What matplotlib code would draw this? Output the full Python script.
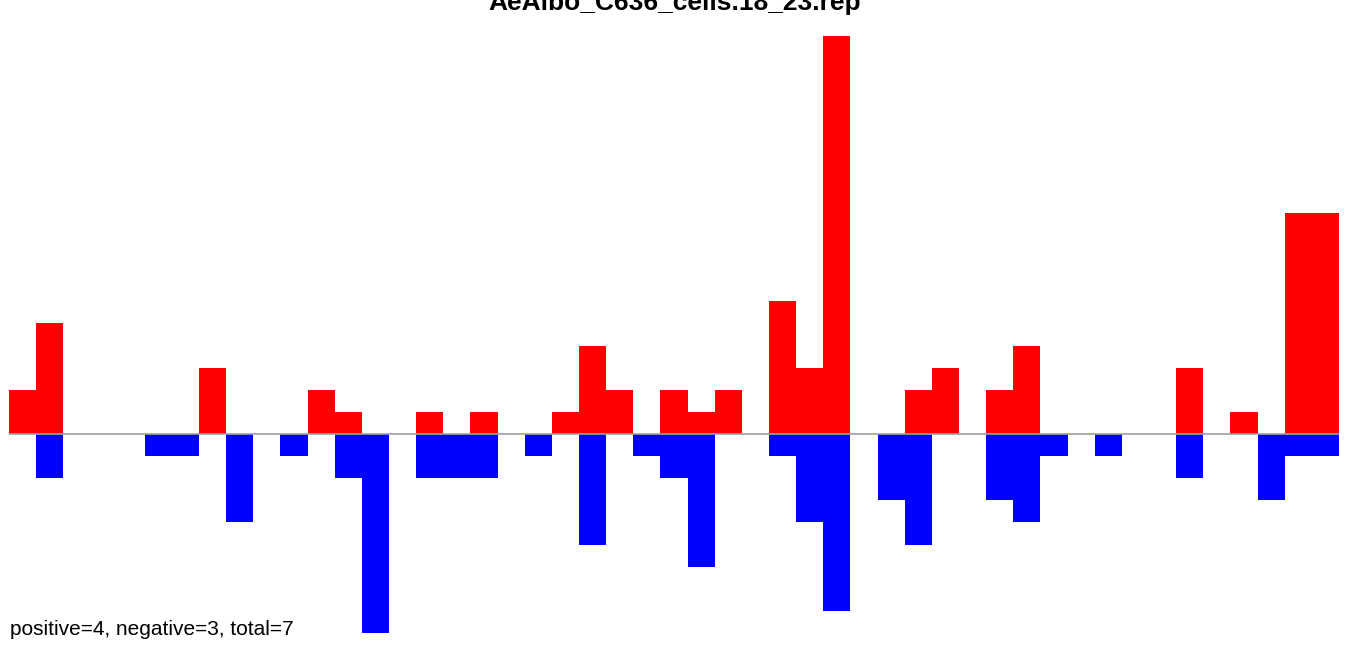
import numpy as np
import matplotlib.pyplot as plt

plt.rcParams['font.family'] = ['Liberation Sans', 'DejaVu Sans']

title = "AeAlbo_C636_cells.18_23.rep"
note = "positive=4, negative=3, total=7"

# counts per bin (49 bins)
pos = [2, 5, 0, 0, 0, 0, 0, 3, 0, 0,
       0, 2, 1, 0, 0, 1, 0, 1, 0, 0,
       1, 4, 2, 0, 2, 1, 2, 0, 6, 3,
       18, 0, 0, 2, 3, 0, 2, 4, 0, 0,
       0, 0, 0, 3, 0, 1, 0, 10, 10]
neg = [0, 2, 0, 0, 0, 1, 1, 0, 4, 0,
       1, 0, 2, 9, 0, 2, 2, 2, 0, 1,
       0, 5, 0, 1, 2, 6, 0, 0, 1, 4,
       8, 0, 3, 5, 0, 0, 3, 4, 1, 0,
       1, 0, 0, 2, 0, 0, 3, 1, 1]

x = np.arange(len(pos))

fig = plt.figure(figsize=(13.5, 6.45), dpi=100)
ax = fig.add_axes([9 / 1350, 12 / 645, 1330 / 1350, 597 / 645])
ax.bar(x, pos, width=1, align='edge', color='#ff0000', linewidth=0)
ax.bar(x, -np.array(neg), width=1, align='edge', color='#0000ff', linewidth=0)
ax.axhline(0, color='#a0a0a0', lw=1.2, zorder=3)
ax.set_xlim(0, len(pos))
ax.set_ylim(-9, 18)
ax.axis('off')

fig.text(0.5, 1 - 10 / 645, title, ha='center', va='baseline',
         fontsize=19, fontweight='bold')
fig.text(10 / 1350, 1 - 635 / 645, note, ha='left', va='baseline', fontsize=15)

fig.savefig('out.png', dpi=100)
